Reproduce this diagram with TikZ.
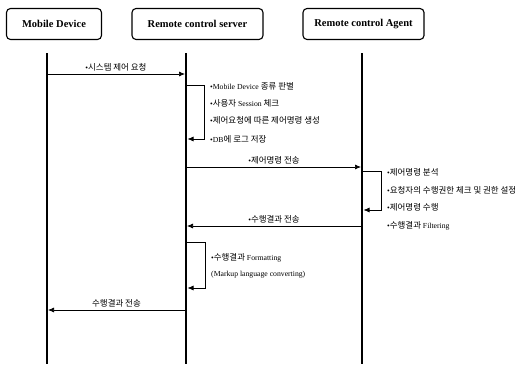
\documentclass[tikz,border=0pt]{standalone}
\usepackage{fontspec}
\setmainfont{Liberation Serif}
\newfontfamily\kr{Noto Sans CJK KR}[Scale=1.1]
\usetikzlibrary{arrows.meta}
\tikzset{
  actor/.style={draw, line width=1.1pt, rounded corners=4pt, minimum height=31pt, inner sep=0pt, font=\bfseries\fontsize{10.5}{12}\selectfont},
  life/.style={line width=1.8pt},
  msg/.style={line width=0.7pt, -{Latex[length=6pt,width=5pt]}},
  lbl/.style={font=\fontsize{7.7}{9}\selectfont, inner sep=1pt},
  note/.style={font=\fontsize{7.7}{9}\selectfont, anchor=west, inner sep=1pt}
}
\begin{document}
\begin{tikzpicture}[x=1pt,y=1pt]
\useasboundingbox (0,0) rectangle (529,-364);
% actors
\node[actor, minimum width=95pt] (md) at (54,-24) {Mobile Device};
\node[actor, minimum width=131pt] (rs) at (197.5,-24) {Remote control server};
\node[actor, minimum width=121pt] (ra) at (363.5,-24) {Remote control Agent};
% lifelines
\coordinate (mdT) at (47,-53); \coordinate (mdB) at (47,-364);
\coordinate (rsT) at (186,-53); \coordinate (rsB) at (186,-364);
\coordinate (raT) at (362,-53); \coordinate (raB) at (362,-364);
\draw[life] (mdT) -- (mdB);
\draw[life] (rsT) -- (rsB);
\draw[life] (raT) -- (raB);
% message 1
\coordinate (m1a) at (47,-74); \coordinate (m1b) at (185,-74);
\draw[msg] (m1a) -- node[lbl, above=1pt] {•{\kr 시스템 제어 요청}} (m1b);
% server loop 1
\coordinate (l1a) at (187,-85); \coordinate (l1b) at (187.5,-139);
\draw[msg] (l1a) -- (204,-85) -- (204,-139) -- (l1b);
\node[note] (n1) at (209,-86) {•Mobile Device {\kr 종류 판별}};
\node[note] (n2) at (209,-103) {•{\kr 사용자} Session {\kr 체크}};
\node[note] (n3) at (209,-120) {•{\kr 제어요청에 따른 제어명령 생성}};
\node[note] (n4) at (209,-139) {•DB{\kr 에 로그 저장}};
% message 2
\coordinate (m2a) at (187,-167); \coordinate (m2b) at (361,-167);
\draw[msg] (m2a) -- node[lbl, above=1pt] {•{\kr 제어명령 전송}} (m2b);
% agent loop
\coordinate (l2a) at (363,-171); \coordinate (l2b) at (363.5,-210);
\draw[msg] (l2a) -- (381,-171) -- (381,-210) -- (l2b);
\node[note] (a1) at (386,-172) {•{\kr 제어명령 분석}};
\node[note] (a2) at (386,-190) {•{\kr 요청자의 수행권한 체크 및 권한 설정}};
\node[note] (a3) at (386,-207) {•{\kr 제어명령 수행}};
\node[note] (a4) at (386,-226) {•{\kr 수행결과} Filtering};
% message 3
\coordinate (m3a) at (361,-226); \coordinate (m3b) at (187,-226);
\draw[msg] (m3a) -- node[lbl, above=1pt] {•{\kr 수행결과 전송}} (m3b);
% server loop 2
\coordinate (l3a) at (187,-242); \coordinate (l3b) at (187.5,-288);
\draw[msg] (l3a) -- (205,-242) -- (205,-288) -- (l3b);
\node[note] (f1) at (210,-258) {•{\kr 수행결과} Formatting};
\node[note] (f2) at (210,-275) {(Markup language converting)};
% message 4
\coordinate (m4a) at (185,-310); \coordinate (m4b) at (48,-310);
\draw[msg] (m4a) -- node[lbl, above=1pt] {{\kr 수행결과 전송}} (m4b);
\end{tikzpicture}
\end{document}
